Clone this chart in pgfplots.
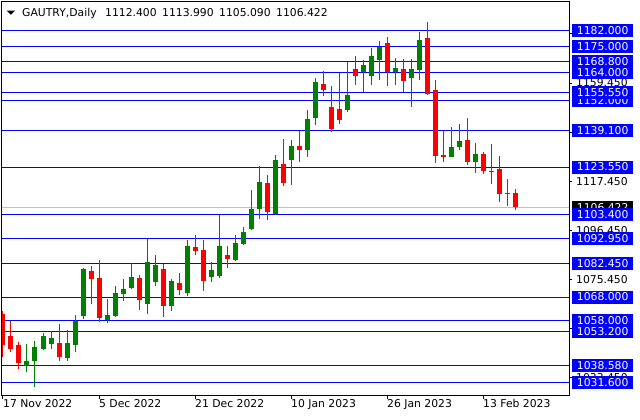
\documentclass[border=0pt]{standalone}
\usepackage{fontspec}
\setmainfont{DejaVu Sans}
\usepackage{pgfplots}
\usepackage{pgfplotstable}
\pgfplotsset{compat=1.18}

\definecolor{bull}{RGB}{0,128,0}
\definecolor{bear}{RGB}{255,0,0}
\definecolor{lvl}{RGB}{0,0,255}
\definecolor{bidline}{RGB}{192,192,192}

% daily bars, x = bar index (0 = 17 Nov 2022)
\pgfplotstableread{
x  o       h       l       c
3  1038.5  1047.9  1036.1  1040.7
4  1040.8  1049.2  1029.7  1046.7
5  1045.9  1052.5  1045.4  1051.4
6  1048.1  1053.5  1045.7  1050.5
8  1042.1  1053.9  1040.8  1048.2
9  1047.6  1060.2  1044.7  1057.9
10 1060.0  1080.4  1058.8  1080.0
13 1058.0  1067.2  1057.0  1060.2
14 1060.0  1072.7  1059.5  1069.7
15 1069.4  1075.7  1066.4  1071.4
16 1071.9  1082.4  1071.3  1076.6
18 1065.2  1092.8  1060.6  1083.0
19 1074.6  1086.0  1072.9  1081.7
21 1064.3  1075.6  1062.2  1074.9
23 1069.9  1092.4  1068.6  1089.8
26 1076.4  1083.1  1074.6  1079.6
27 1077.0  1103.2  1076.0  1089.8
29 1083.8  1094.5  1083.5  1091.1
30 1090.7  1097.9  1090.3  1095.8
31 1097.1  1113.8  1096.7  1105.6
32 1105.6  1124.0  1101.4  1117.2
34 1103.5  1128.7  1103.2  1126.6
36 1126.6  1135.1  1115.9  1132.6
38 1130.9  1147.9  1127.9  1144.1
39 1144.6  1161.6  1141.5  1159.9
43 1147.9  1168.6  1147.2  1154.4
45 1164.2  1169.3  1155.6  1167.2
46 1162.5  1174.4  1158.6  1171.0
47 1169.3  1177.4  1160.8  1174.9
49 1164.2  1170.2  1158.6  1165.9
51 1161.6  1169.7  1149.4  1165.5
52 1165.0  1181.3  1160.8  1177.9
56 1128.0  1140.7  1127.8  1132.1
57 1132.1  1142.0  1131.0  1134.7
59 1125.9  1133.8  1121.2  1129.1
61 1121.6  1133.4  1116.4  1122.0
63 1112.1  1118.5  1107.0  1112.5
}\upbars

\pgfplotstableread{
x  o       h       l       c
0  1060.8  1062.0  1042.5  1047.6
1  1051.4  1057.9  1044.7  1045.9
2  1047.5  1048.8  1037.1  1040.0
7  1048.2  1056.5  1040.8  1042.5
11 1079.1  1081.4  1065.2  1075.9
12 1076.2  1083.8  1057.5  1059.1
17 1076.2  1077.4  1062.6  1066.9
20 1080.0  1082.1  1059.6  1064.3
22 1074.0  1078.3  1069.0  1071.2
24 1089.4  1094.5  1086.0  1087.7
25 1088.1  1092.4  1070.7  1075.0
28 1086.0  1089.8  1080.6  1084.3
33 1116.7  1120.2  1100.9  1104.5
35 1124.9  1135.6  1115.5  1116.7
37 1132.6  1139.0  1125.7  1130.9
40 1159.1  1164.6  1153.9  1156.5
41 1149.2  1158.2  1138.5  1139.8
42 1148.4  1163.9  1142.1  1143.8
44 1165.5  1171.0  1158.6  1162.5
48 1176.6  1179.1  1158.2  1164.2
50 1165.5  1169.7  1155.6  1160.3
53 1178.7  1185.5  1154.4  1154.8
54 1156.5  1160.8  1125.4  1128.4
55 1128.7  1139.1  1125.9  1128.0
58 1135.1  1144.5  1124.6  1125.9
60 1129.1  1130.1  1120.7  1122.0
62 1122.7  1128.3  1108.8  1112.2
64 1112.4  1113.99 1105.09 1106.422
}\downbars

\pgfplotsset{
  candle/.style={#1, only marks, mark=*, mark size=0pt,
    mark options={draw=none, fill=none}},
}

\begin{document}
\begin{tikzpicture}[font=\fontsize{10.8}{12}\selectfont]
\useasboundingbox (0,0) rectangle (640pt,420pt);
% current bid label, drawn first so the level labels lie over it
\node[fill=black, text=white, anchor=west, inner xsep=5pt, inner ysep=0pt,
  minimum height=13pt] at (571.7pt,212.85pt) {1106.422};
\begin{axis}[
  at={(2pt,24pt)}, anchor=south west,
  scale only axis, width=567pt, height=394pt,
  xmin=-0.125, xmax=70.75, ymin=1025.72, ymax=1194.09,
  axis line style={black, line width=1pt},
  clip mode=individual,
  tick align=outside, major tick length=3pt,
  tick style={black, line width=1pt},
  xtick pos=bottom, ytick pos=right,
  xtick={0,12,24,36,48,60},
  xticklabels={17 Nov 2022,5 Dec 2022,21 Dec 2022,10 Jan 2023,26 Jan 2023,13 Feb 2023},
  xticklabel style={anchor=north west, inner sep=0pt},
  ytick={1033.45,1054.45,1075.45,1096.45,1117.45,1138.45,1159.45,1180.45},
  yticklabels={1033.450,1054.450,1075.450,1096.450,1117.450,1138.450,1159.450,1180.450},
  yticklabel style={anchor=west, inner xsep=5pt, inner ysep=0pt,
    minimum height=13pt, xshift=-1pt},
  extra y ticks={1182,1175,1168.8,1164,1152,1155.55,1139.1,1123.55,1103.4,1092.95,1082.45,1068,1058,1053.2,1038.58,1031.6},
  extra y tick labels={1182.000,1175.000,1168.800,1164.000,1152.000,1155.550,1139.100,1123.550,1103.400,1092.950,1082.450,1068.000,1058.000,1053.200,1038.580,1031.600},
  extra y tick style={grid=major, major grid style={lvl, line width=1pt},
    major tick length=0pt,
    yticklabel style={fill=lvl, text=white, xshift=3.7pt}},
]
\addplot[bidline, line width=1pt] coordinates {(-1,1106.422) (72,1106.422)};

% wicks
\addplot[candle=bull,
  error bars/.cd, y dir=plus, y explicit, error mark=none,
  error bar style={bull, line width=1pt}]
  table[x=x, y=l, y error expr=\thisrow{h}-\thisrow{l}] {\upbars};
\addplot[candle=bear,
  error bars/.cd, y dir=plus, y explicit, error mark=none,
  error bar style={bear, line width=1pt}]
  table[x=x, y=l, y error expr=\thisrow{h}-\thisrow{l}] {\downbars};
% bodies
\addplot[candle=bull,
  error bars/.cd, y dir=plus, y explicit, error mark=none,
  error bar style={bull, line width=5pt}]
  table[x=x, y=o, y error expr=\thisrow{c}-\thisrow{o}] {\upbars};
\addplot[candle=bear,
  error bars/.cd, y dir=plus, y explicit, error mark=none,
  error bar style={bear, line width=5pt}]
  table[x=x, y=c, y error expr=\thisrow{o}-\thisrow{c}] {\downbars};
\end{axis}

\fill (6.7pt,409.3pt) -- (15pt,409.3pt) -- (10.85pt,405.3pt) -- cycle;
\node[anchor=base west, inner sep=0pt] at (22pt,403pt) {GAUTRY,Daily};
\node[anchor=base west, inner sep=0pt] at (105pt,403pt) {1112.400};
\node[anchor=base west, inner sep=0pt] at (162pt,403pt) {1113.990};
\node[anchor=base west, inner sep=0pt] at (219pt,403pt) {1105.090};
\node[anchor=base west, inner sep=0pt] at (276pt,403pt) {1106.422};
\end{tikzpicture}
\end{document}
